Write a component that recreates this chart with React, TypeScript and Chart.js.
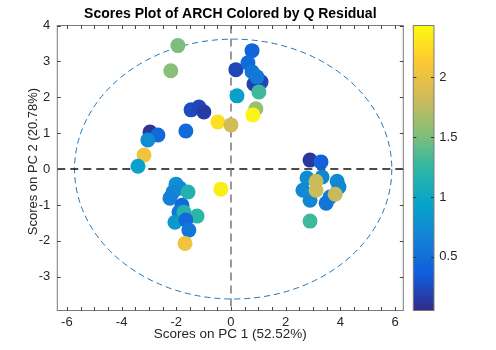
import React, { useEffect, useRef } from 'react';
import { Chart, registerables } from 'chart.js';

Chart.register(...registerables);

// ---- data ----
const PC1 = [
  -1.94, -2.2, 0.18, 0.77, 0.62, 1.1, 0.84, 0.77, 0.95, 1.02, 0.22, 0.91, 0.8, -0.48, 0.0,
  -1.46, -1.17, -0.99, -1.65, -2.96, -2.67, -3.04, -3.18, -3.4, -0.37,
  -2.01, -1.87, -2.12, -2.23, -1.79, -1.57, -1.9, -1.72, -1.24, -2.05, -1.65, -1.54, -1.68,
  2.89, 3.29, 2.78, 3.33, 3.88, 3.95, 2.63, 3.62, 2.89, 3.48, 3.11, 3.11, 3.81, 2.89,
];
const PC2 = [
  3.44, 2.74, 2.77, 3.3, 2.96, 2.43, 2.37, 2.71, 2.57, 2.15, 2.04, 1.68, 1.51, 1.31, 1.23,
  1.65, 1.73, 1.59, 1.06, 1.03, 0.95, 0.81, 0.39, 0.08, -0.56,
  -0.42, -0.53, -0.64, -0.81, -1.01, -0.64, -1.2, -1.2, -1.31, -1.48, -1.42, -1.7, -2.07,
  0.25, 0.2, -0.25, -0.22, -0.34, -0.5, -0.59, -0.78, -0.87, -0.95, -0.34, -0.59, -0.7, -1.45,
];
const QRES = [
  1.5, 1.55, 0.22, 0.42, 0.48, 0.22, 0.18, 0.55, 0.58, 1.3, 0.92, 1.62, 2.4, 2.28, 1.85,
  0.25, 0.22, 0.15, 0.45, 0.12, 0.45, 0.75, 2.05, 0.92, 2.36,
  0.78, 0.72, 0.7, 0.65, 0.45, 1.15, 0.55, 1.18, 1.22, 0.85, 0.45, 0.55, 2.05,
  0.12, 0.4, 0.75, 0.7, 0.72, 0.7, 0.72, 0.62, 0.7, 0.55, 1.8, 1.82, 1.8, 1.3,
];

const X_TICKS = [
  -6, -5.5, -5, -4.5, -4, -3.5, -3, -2.5, -2, -1.5, -1, -0.5, 0,
  0.5, 1, 1.5, 2, 2.5, 3, 3.5, 4, 4.5, 5, 5.5, 6,
];
const X_TICK_LABELS = [-6, -4, -2, 0, 2, 4, 6];
const Y_TICKS = [-3, -2, -1, 0, 1, 2, 3, 4];
const CB_TICKS = [0.5, 1, 1.5, 2];

const X_MIN = -6.35;
const X_MAX = 6.3;
const Y_MIN = -3.94;
const Y_MAX = 4;
const CB_MIN = 0.05;
const CB_MAX = 2.435;

const ELLIPSE_CX = 0.08;
const ELLIPSE_CY = 0;
const ELLIPSE_RX = 5.8;
const ELLIPSE_RY = 3.62;

const TITLE = 'Scores Plot of ARCH Colored by Q Residual';
const X_LABEL = 'Scores on PC 1 (52.52%)';
const Y_LABEL = 'Scores on PC 2 (20.78%)';

const PARULA = [
  [53, 42, 135],
  [15, 92, 221],
  [20, 129, 214],
  [6, 164, 202],
  [46, 183, 164],
  [135, 191, 119],
  [209, 187, 89],
  [254, 200, 50],
  [249, 251, 14],
];

const FONT = '"Liberation Sans", Arial, Helvetica, sans-serif';

function parula(t: number): string {
  const c = Math.max(0, Math.min(1, t)) * (PARULA.length - 1);
  const i = Math.min(PARULA.length - 2, Math.floor(c));
  const f = c - i;
  const a = PARULA[i];
  const b = PARULA[i + 1];
  const r = Math.round(a[0] + (b[0] - a[0]) * f);
  const g = Math.round(a[1] + (b[1] - a[1]) * f);
  const bl = Math.round(a[2] + (b[2] - a[2]) * f);
  return `rgb(${r},${g},${bl})`;
}

function colorFor(v: number): string {
  return parula((v - CB_MIN) / (CB_MAX - CB_MIN));
}

const decorPlugin = {
  id: 'decor',
  beforeDatasetsDraw(chart: any) {
    const { ctx, chartArea: a, scales } = chart;
    const xs = scales.x;
    const ys = scales.y;
    ctx.save();
    ctx.beginPath();
    ctx.rect(a.left, a.top, a.right - a.left, a.bottom - a.top);
    ctx.clip();

    // confidence ellipse
    const cx = xs.getPixelForValue(ELLIPSE_CX);
    const cy = ys.getPixelForValue(ELLIPSE_CY);
    const rx = Math.abs(xs.getPixelForValue(ELLIPSE_CX + ELLIPSE_RX) - cx);
    const ry = Math.abs(ys.getPixelForValue(ELLIPSE_CY + ELLIPSE_RY) - cy);
    ctx.beginPath();
    ctx.ellipse(cx, cy, rx, ry, 0, 0, Math.PI * 2);
    ctx.setLineDash([6, 4]);
    ctx.lineWidth = 1;
    ctx.strokeStyle = '#1f74b8';
    ctx.stroke();

    // zero lines
    const x0 = xs.getPixelForValue(0);
    const y0 = ys.getPixelForValue(0);
    ctx.setLineDash([8, 5]);
    ctx.lineWidth = 1.5;
    ctx.strokeStyle = '#111';
    ctx.beginPath();
    ctx.moveTo(a.left, y0);
    ctx.lineTo(a.right, y0);
    ctx.stroke();
    ctx.strokeStyle = '#777';
    ctx.beginPath();
    ctx.moveTo(x0, a.top);
    ctx.lineTo(x0, a.bottom);
    ctx.stroke();
    ctx.restore();
  },
  afterDatasetsDraw(chart: any) {
    const { ctx, chartArea: a, scales } = chart;
    const xs = scales.x;
    const ys = scales.y;
    const cb = scales.cb;
    ctx.save();
    ctx.setLineDash([]);
    // axes box
    ctx.strokeStyle = '#7a7a7a';
    ctx.lineWidth = 1;
    ctx.strokeRect(a.left, a.top, a.right - a.left, a.bottom - a.top);
    // ticks (inside, mirrored)
    const tl = 3.5;
    ctx.strokeStyle = '#444';
    ctx.beginPath();
    for (const t of xs.ticks) {
      const px = Math.round(xs.getPixelForValue(t.value)) + 0.5;
      ctx.moveTo(px, a.bottom);
      ctx.lineTo(px, a.bottom - tl);
      ctx.moveTo(px, a.top);
      ctx.lineTo(px, a.top + tl);
    }
    for (const t of ys.ticks) {
      const py = Math.round(ys.getPixelForValue(t.value)) + 0.5;
      ctx.moveTo(a.left, py);
      ctx.lineTo(a.left + tl, py);
      ctx.moveTo(a.right, py);
      ctx.lineTo(a.right - tl, py);
    }
    ctx.stroke();

    // colorbar
    const bx = a.right + 10;
    const bw = 20.7;
    const top = cb.getPixelForValue(CB_MAX);
    const bottom = cb.getPixelForValue(CB_MIN);
    const grad = ctx.createLinearGradient(0, bottom, 0, top);
    PARULA.forEach((c, i) => {
      grad.addColorStop(i / (PARULA.length - 1), `rgb(${c[0]},${c[1]},${c[2]})`);
    });
    ctx.fillStyle = grad;
    ctx.fillRect(bx, top, bw, bottom - top);
    ctx.strokeStyle = '#7a7a7a';
    ctx.strokeRect(bx, top, bw, bottom - top);
    ctx.strokeStyle = '#333';
    ctx.beginPath();
    for (const t of cb.ticks) {
      const py = Math.round(cb.getPixelForValue(t.value)) + 0.5;
      ctx.moveTo(bx + bw, py);
      ctx.lineTo(bx + bw - 3, py);
      ctx.moveTo(bx, py);
      ctx.lineTo(bx + 3, py);
    }
    ctx.stroke();

    // y-axis label (MATLAB places it slightly above the axes centre)
    ctx.translate(33, (a.top + a.bottom) / 2 - 6.5);
    ctx.rotate(-Math.PI / 2);
    ctx.fillStyle = '#262626';
    ctx.font = `13px ${FONT}`;
    ctx.textAlign = 'center';
    ctx.textBaseline = 'middle';
    ctx.fillText(Y_LABEL, 0, 0);
    ctx.restore();
  },
};

export default function App() {
  const ref = useRef<HTMLCanvasElement | null>(null);

  useEffect(() => {
    if (!ref.current) return;
    const points = PC1.map((x, i) => ({ x, y: PC2[i] }));
    const colors = QRES.map(colorFor);
    const tickFont = { family: FONT, size: 13 };
    const chart = new Chart(ref.current, {
      type: 'scatter',
      data: {
        datasets: [
          {
            data: points,
            backgroundColor: colors,
            borderWidth: 0,
            pointRadius: 7.5,
            pointHoverRadius: 7.5,
          },
        ],
      },
      options: {
        responsive: false,
        animation: false,
        devicePixelRatio: 1,
        layout: { padding: 0, autoPadding: false },
        plugins: {
          legend: { display: false },
          tooltip: { enabled: false },
          title: {
            display: true,
            text: TITLE,
            fullSize: false,
            color: '#000',
            font: { family: FONT, size: 14, weight: 'bold' },
            padding: { top: 5.6, bottom: 3.1 },
          },
        },
        scales: {
          x: {
            type: 'linear',
            min: X_MIN,
            max: X_MAX,
            grid: { display: false, drawTicks: false },
            border: { display: false },
            afterBuildTicks: (s: any) => {
              s.ticks = X_TICKS.map((v) => ({ value: v }));
            },
            afterFit: (s: any) => {
              s.height = 39.5;
              s.paddingLeft = 0;
              s.paddingRight = 0;
            },
            ticks: {
              autoSkip: false,
              maxRotation: 0,
              padding: 4.5,
              color: '#262626',
              font: tickFont,
              callback: (v: any) => (X_TICK_LABELS.includes(Number(v)) ? String(v) : ''),
            },
            title: {
              display: true,
              text: X_LABEL,
              color: '#262626',
              font: { family: FONT, size: 13.5 },
              padding: { top: 0, bottom: 7.5 },
            },
          },
          y: {
            type: 'linear',
            position: 'left',
            min: Y_MIN,
            max: Y_MAX,
            grid: { display: false, drawTicks: false },
            border: { display: false },
            afterBuildTicks: (s: any) => {
              s.ticks = Y_TICKS.map((v) => ({ value: v }));
            },
            afterFit: (s: any) => {
              s.width = 57.3;
              s.paddingTop = 0;
              s.paddingBottom = 0;
            },
            ticks: {
              autoSkip: false,
              padding: 7,
              color: '#262626',
              font: tickFont,
              callback: (v: any) => String(v),
            },
            title: { display: false },
          },
          cb: {
            type: 'linear',
            axis: 'y',
            position: 'right',
            display: true,
            min: CB_MIN,
            max: CB_MAX,
            grid: { display: false, drawTicks: false },
            border: { display: false },
            afterBuildTicks: (s: any) => {
              s.ticks = CB_TICKS.map((v) => ({ value: v }));
            },
            afterFit: (s: any) => {
              s.width = 92.7;
              s.paddingTop = 0;
              s.paddingBottom = 0;
            },
            ticks: {
              autoSkip: false,
              padding: 36,
              color: '#262626',
              font: tickFont,
              callback: (v: any) => String(v),
            },
          },
        },
      } as any,
      plugins: [decorPlugin],
    });
    return () => chart.destroy();
  }, []);

  return (
    <div style={{ position: 'absolute', left: 0, top: 0, width: 496, height: 350, background: '#fff' }}>
      <canvas ref={ref} width={496} height={350} style={{ display: 'block' }} />
    </div>
  );
}
